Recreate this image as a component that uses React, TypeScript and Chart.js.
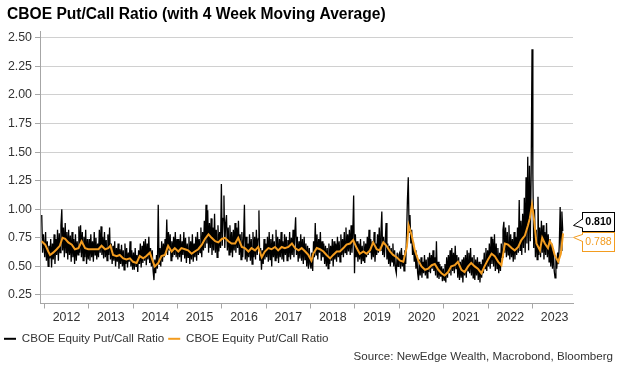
import React, { useEffect, useRef } from 'react';
import { Chart, registerables } from 'chart.js';

Chart.register(...registerables);

const FONT = '"Liberation Sans", Arial, Helvetica, sans-serif';
Chart.defaults.font.family = FONT;
Chart.defaults.color = '#333333';

const TITLE = 'CBOE Put/Call Ratio (with 4 Week Moving Average)';
const SOURCE = 'Source: NewEdge Wealth, Macrobond, Bloomberg';
const SERIES_DAILY = 'CBOE Equity Put/Call Ratio';
const SERIES_MA = 'CBOE Equity Put/Call Ratio';

const yTickValues = [0.25, 0.5, 0.75, 1.0, 1.25, 1.5, 1.75, 2.0, 2.25, 2.5];
const yearLabels = [2012, 2013, 2014, 2015, 2016, 2017, 2018, 2019, 2020, 2021, 2022, 2023];

const lastPcr = 0.81;
const lastMa = 0.788;

// weekly readings of the put/call ratio (black line)
const pcr2011 = [0.95, 0.62, 0.78];
const pcr2012 = [0.58,0.80,0.55,0.72,0.50,0.68,0.57,0.74,0.49,0.70,0.56,0.78,0.52,0.74,0.60,0.82,0.55,0.79,0.62,0.86,1.00,0.64,0.84,0.58,0.88,0.62,0.80,0.56,0.82,0.60,0.77,0.54,0.80,0.58,0.74,0.52,0.78,0.55,0.72,0.60,0.85,0.62,0.86,0.58,0.80,0.55,0.76,0.58,0.82,0.52,0.74,0.56];
const pcr2013 = [0.74,0.55,0.78,0.58,0.72,0.54,0.80,0.60,0.75,0.56,0.70,0.58,0.82,0.62,0.85,0.60,0.76,0.57,0.80,0.58,0.73,0.55,0.78,0.60,0.84,0.56,0.70,0.52,0.68,0.55,0.72,0.50,0.66,0.54,0.70,0.48,0.65,0.52,0.69,0.50,0.64,0.47,0.70,0.52,0.66,0.49,0.62,0.54,0.72,0.50,0.64,0.47];
const pcr2014 = [0.62,0.47,0.66,0.50,0.60,0.45,0.64,0.52,0.70,0.49,0.68,0.53,0.72,0.55,0.74,0.51,0.70,0.56,0.76,0.53,0.66,0.50,0.64,0.46,0.38,0.56,0.44,0.60,0.48,1.04,0.52,0.66,0.50,0.72,0.54,0.70,0.58,0.74,0.62,0.91,0.60,0.80,0.64,0.78,0.55,0.72,0.58,0.76,0.60,0.80,0.58,0.74];
const pcr2015 = [0.56,0.74,0.58,0.78,0.54,0.72,0.60,0.80,0.57,0.75,0.53,0.70,0.58,0.76,0.52,0.72,0.56,0.78,0.54,0.70,0.58,0.76,0.55,0.80,0.60,0.74,0.62,0.84,0.58,0.80,0.64,0.90,0.66,1.04,0.70,0.99,0.62,0.88,0.66,0.92,0.60,0.84,0.64,0.96,0.62,0.82,0.58,0.86,0.63,0.80,0.66,1.22];
const pcr2016 = [0.68,0.92,1.12,0.66,0.88,0.95,0.64,0.84,0.60,0.86,0.62,0.80,0.58,0.82,0.64,0.88,0.62,0.84,0.66,0.90,0.60,0.78,0.56,0.80,0.58,0.74,1.04,0.56,0.76,0.54,0.70,0.58,0.78,0.55,0.74,0.52,0.80,0.58,0.76,0.56,0.82,0.60,0.74,0.99,0.55,0.66,0.47,0.64,0.52,0.74,0.56,0.70];
const pcr2017 = [0.58,0.76,0.54,0.80,0.56,0.74,0.50,0.78,0.58,0.72,0.55,0.82,0.57,0.76,0.53,0.74,0.58,0.80,0.56,0.72,0.54,0.78,0.60,0.76,0.55,0.73,0.58,0.80,0.56,0.75,0.60,0.82,0.58,0.78,0.93,0.60,0.76,0.54,0.72,0.57,0.78,0.55,0.74,0.52,0.76,0.56,0.70,0.50,0.68,0.48,0.66,0.52];
const pcr2018 = [0.48,0.62,0.46,0.72,0.58,0.88,0.60,0.78,0.56,0.74,0.62,0.80,0.55,0.72,0.58,0.70,0.52,0.68,0.50,0.66,0.48,0.70,0.52,0.68,0.55,0.74,0.50,0.72,0.56,0.70,0.54,0.76,0.58,0.72,0.54,0.78,0.60,0.74,0.58,0.80,0.62,0.84,0.60,0.78,0.63,0.82,0.60,0.86,0.62,0.80,1.12,0.44];
const pcr2019 = [0.78,0.58,0.72,0.54,0.70,0.56,0.74,0.52,0.68,0.55,0.72,0.53,0.70,0.58,0.76,0.60,0.82,0.62,0.74,0.56,0.72,0.58,0.80,0.54,0.70,0.60,0.78,0.62,0.84,0.64,0.80,0.98,0.60,0.76,0.58,0.72,0.88,0.56,0.70,0.52,0.68,0.50,0.66,0.54,0.70,0.50,0.64,0.48,0.44,0.62,0.50,0.60];
const pcr2020 = [0.62,0.48,0.66,0.50,0.60,0.46,0.64,0.52,0.78,1.08,1.28,0.80,0.95,0.70,0.82,0.60,0.72,0.54,0.64,0.48,0.60,0.44,0.38,0.56,0.42,0.58,0.40,0.54,0.44,0.60,0.42,0.56,0.40,0.58,0.45,0.62,0.44,0.60,0.48,0.64,0.46,0.58,0.42,0.72,0.40,0.54,0.39,0.52,0.41,0.50,0.37,0.48];
const pcr2021 = [0.38,0.52,0.36,0.58,0.40,0.60,0.44,0.64,0.42,0.66,0.46,0.62,0.44,0.68,0.48,0.60,0.40,0.58,0.38,0.54,0.40,0.56,0.36,0.58,0.42,0.60,0.40,0.64,0.46,0.62,0.44,0.66,0.42,0.58,0.40,0.60,0.38,0.56,0.42,0.58,0.38,0.54,0.36,0.52,0.40,0.56,0.44,0.62,0.48,0.66,0.46,0.64];
const pcr2022 = [0.50,0.70,0.48,0.76,0.52,0.74,0.50,0.78,0.46,0.70,0.48,0.66,0.44,0.62,0.46,0.70,0.58,0.82,0.89,0.62,0.84,0.58,0.80,0.60,0.86,0.56,0.78,0.58,0.74,0.54,0.80,0.56,0.76,0.60,0.84,0.62,1.08,0.64,0.90,0.60,0.96,0.66,1.10,0.62,1.28,0.70,1.46,0.64,1.38,0.72,1.32,2.40];
const pcr2023 = [1.31,0.66,1.00,0.58,0.82,0.56,1.11,0.60,0.84,0.58,0.90,0.62,0.86,0.56,0.80,0.60,0.88,0.58,0.78,0.54,0.74,0.50,0.70,0.48,0.66,0.46,0.40,0.58,0.48,0.62,0.52,0.70,1.02,0.64,0.98,0.81];

// 4 week moving average (orange line): dates (decimal years) and values
const maDates = [
  2011.94,
  2012.02,2012.09,2012.13,2012.20,2012.28,2012.35,2012.41,2012.47,2012.54,2012.62,2012.69,2012.77,2012.84,2012.92,2012.99,
  2013.10,2013.22,2013.29,2013.37,2013.44,2013.49,2013.55,2013.63,2013.70,2013.78,2013.85,2013.93,
  2014.00,2014.08,2014.15,2014.23,2014.30,2014.38,2014.45,2014.49,2014.57,2014.64,2014.72,2014.79,2014.87,2014.94,
  2015.02,2015.09,2015.17,2015.24,2015.32,2015.39,2015.47,2015.55,2015.62,2015.70,2015.77,2015.85,2015.92,
  2016.00,2016.07,2016.15,2016.22,2016.30,2016.37,2016.45,2016.52,2016.60,2016.67,2016.75,2016.82,2016.90,2016.97,
  2017.05,2017.12,2017.20,2017.27,2017.35,2017.42,2017.50,2017.58,2017.65,2017.73,2017.80,2017.88,2017.95,
  2018.02,2018.06,2018.14,2018.21,2018.29,2018.36,2018.44,2018.51,2018.59,2018.66,2018.74,2018.81,2018.89,2018.96,
  2019.04,2019.11,2019.19,2019.26,2019.34,2019.41,2019.49,2019.56,2019.64,2019.71,2019.79,2019.86,2019.94,
  2020.02,2020.09,2020.17,2020.21,2020.28,2020.35,2020.43,2020.50,2020.58,2020.65,2020.73,2020.80,2020.88,2020.95,
  2021.02,2021.10,2021.17,2021.25,2021.32,2021.40,2021.47,2021.55,2021.62,2021.70,2021.77,2021.85,2021.92,
  2022.00,2022.08,2022.15,2022.23,2022.30,2022.38,2022.45,2022.53,2022.60,2022.68,2022.75,2022.83,2022.90,2022.94,2022.99,
  2023.04,2023.09,2023.17,2023.22,2023.28,2023.35,2023.39,2023.44,2023.50,2023.58,2023.64,2023.69,
];
const maValues = [
  0.72,
  0.69,0.63,0.60,0.62,0.65,0.68,0.75,0.74,0.71,0.69,0.65,0.66,0.72,0.66,0.65,
  0.65,0.65,0.68,0.65,0.66,0.68,0.60,0.59,0.60,0.57,0.56,0.57,
  0.54,0.53,0.59,0.57,0.59,0.62,0.54,0.50,0.53,0.59,0.60,0.68,0.63,0.66,
  0.63,0.66,0.65,0.64,0.61,0.63,0.65,0.69,0.74,0.78,0.75,0.72,0.71,
  0.74,0.75,0.72,0.70,0.70,0.75,0.67,0.66,0.63,0.66,0.64,0.67,0.58,0.63,
  0.66,0.65,0.67,0.64,0.67,0.66,0.67,0.70,0.66,0.64,0.66,0.63,0.60,
  0.55,0.61,0.66,0.65,0.63,0.60,0.57,0.60,0.63,0.63,0.66,0.69,0.70,0.73,
  0.66,0.61,0.63,0.61,0.64,0.71,0.65,0.64,0.71,0.68,0.63,0.60,0.58,
  0.55,0.54,0.67,0.86,0.77,0.64,0.55,0.50,0.47,0.48,0.51,0.52,0.47,0.44,
  0.42,0.45,0.50,0.51,0.54,0.47,0.45,0.50,0.53,0.50,0.48,0.44,0.50,
  0.56,0.61,0.59,0.54,0.51,0.70,0.69,0.66,0.64,0.67,0.73,0.77,0.86,0.92,1.04,
  0.90,0.70,0.64,0.75,0.70,0.66,0.72,0.69,0.60,0.54,0.61,0.788,
];

const BLACK = '#000000';
const ORANGE = '#f39c1f';

function weekly(year: number, values: number[], startWeek: number, perYear: number) {
  return values.map((v, i) => ({ x: year + (startWeek + i + 0.5) / perYear, y: v }));
}

function buildDaily() {
  return [
    ...weekly(2011, pcr2011, 48.5, 52),
    ...weekly(2012, pcr2012, 0, pcr2012.length),
    ...weekly(2013, pcr2013, 0, pcr2013.length),
    ...weekly(2014, pcr2014, 0, pcr2014.length),
    ...weekly(2015, pcr2015, 0, pcr2015.length),
    ...weekly(2016, pcr2016, 0, pcr2016.length),
    ...weekly(2017, pcr2017, 0, pcr2017.length),
    ...weekly(2018, pcr2018, 0, pcr2018.length),
    ...weekly(2019, pcr2019, 0, pcr2019.length),
    ...weekly(2020, pcr2020, 0, pcr2020.length),
    ...weekly(2021, pcr2021, 0, pcr2021.length),
    ...weekly(2022, pcr2022, 0, pcr2022.length),
    ...weekly(2023, pcr2023, 0, 52),
  ];
}

function drawTag(ctx: CanvasRenderingContext2D, boxTop: number, tipY: number, baseA: number, baseB: number, color: string, text: string, bold: boolean) {
  const x0 = 582;
  const w = 33;
  const h = 20;
  const tipX = 573.5;
  ctx.save();
  ctx.fillStyle = '#ffffff';
  ctx.fillRect(x0, boxTop, w, h);
  ctx.strokeStyle = color;
  ctx.lineWidth = 1;
  ctx.strokeRect(x0 + 0.5, boxTop + 0.5, w - 1, h - 1);
  ctx.beginPath();
  ctx.moveTo(x0 + 1.5, baseA);
  ctx.lineTo(tipX, tipY);
  ctx.lineTo(x0 + 1.5, baseB);
  ctx.closePath();
  ctx.fillStyle = '#ffffff';
  ctx.fill();
  ctx.beginPath();
  ctx.moveTo(x0 + 0.5, baseA);
  ctx.lineTo(tipX, tipY);
  ctx.lineTo(x0 + 0.5, baseB);
  ctx.stroke();
  ctx.fillStyle = color;
  ctx.font = (bold ? 'bold ' : '') + '10.5px ' + FONT;
  ctx.textAlign = 'center';
  ctx.textBaseline = 'middle';
  ctx.fillText(text, x0 + w / 2, boxTop + h / 2 + 0.5);
  ctx.restore();
}

const overlayPlugin = {
  id: 'overlay',
  afterDraw(chart: any) {
    const ctx: CanvasRenderingContext2D = chart.ctx;
    const ys = chart.scales.y;
    ctx.save();
    ctx.fillStyle = '#000000';
    ctx.font = 'bold 15.6px ' + FONT;
    ctx.textAlign = 'left';
    ctx.textBaseline = 'middle';
    ctx.fillText(TITLE, 7, 15);

    ctx.fillStyle = '#333333';
    ctx.font = '11.6px ' + FONT;
    ctx.textAlign = 'right';
    ctx.fillText(SOURCE, 613, 357);
    ctx.restore();

    const py = ys.getPixelForValue(lastPcr);
    const po = ys.getPixelForValue(lastMa);
    drawTag(ctx, Math.round(py - 19), py - 5.5, py - 12, py - 3, BLACK, lastPcr.toFixed(3), true);
    drawTag(ctx, Math.round(po - 1), po + 4, po + 1, po + 8, ORANGE, lastMa.toFixed(3), false);
  },
};

export default function App() {
  const ref = useRef<HTMLCanvasElement>(null);

  useEffect(() => {
    if (!ref.current) return;
    const daily = buildDaily();
    const ma = maDates.map((d, i) => ({ x: d, y: maValues[i] }));
    const isYear = (v: number) => Math.abs(v - Math.round(v)) < 1e-6;

    const chart = new Chart(ref.current, {
      type: 'line',
      data: {
        datasets: [
          {
            label: SERIES_DAILY,
            data: daily,
            borderColor: BLACK,
            backgroundColor: BLACK,
            borderWidth: 1.3,
            pointRadius: 0,
            tension: 0,
            order: 2,
          },
          {
            label: SERIES_MA,
            data: ma,
            borderColor: ORANGE,
            backgroundColor: ORANGE,
            borderWidth: 2,
            pointRadius: 0,
            tension: 0,
            order: 1,
          },
        ],
      },
      options: {
        animation: false,
        responsive: false,
        devicePixelRatio: 1,
        parsing: false,
        normalized: true,
        layout: { padding: { left: 0, right: 50, top: 31, bottom: 27 } },
        plugins: {
          title: { display: false },
          tooltip: { enabled: false },
          legend: {
            display: true,
            position: 'bottom',
            align: 'start',
            maxHeight: 20,
            labels: {
              boxWidth: 12,
              boxHeight: 2,
              padding: 4,
              color: '#333333',
              font: { size: 11.6, family: FONT },
              sort: (a: any, b: any) => a.datasetIndex - b.datasetIndex,
              generateLabels: (c: any) =>
                Chart.defaults.plugins.legend.labels
                  .generateLabels(c)
                  .map((l: any) => ({ ...l, lineWidth: 0, fillStyle: l.strokeStyle })),
            },
          },
        },
        scales: {
          x: {
            type: 'linear',
            min: 2011.903,
            max: 2023.914,
            afterBuildTicks: (s: any) => {
              const t: any[] = [];
              yearLabels.forEach((y) => {
                t.push({ value: y });
                t.push({ value: y + 0.5 });
              });
              s.ticks = t;
            },
            afterFit: (s: any) => {
              s.height = 25.5;
            },
            grid: {
              drawOnChartArea: false,
              drawTicks: true,
              tickLength: 5,
              tickColor: (c: any) => (c.tick && isYear(c.tick.value) ? '#a6a6a6' : 'rgba(0,0,0,0)'),
            },
            border: { display: true, color: '#a6a6a6' },
            ticks: {
              autoSkip: false,
              maxRotation: 0,
              minRotation: 0,
              padding: 2,
              color: '#333333',
              font: { size: 12.4, family: FONT },
              callback: (v: any) => (isYear(Number(v)) ? '' : String(Math.floor(Number(v)))),
            },
          },
          y: {
            type: 'linear',
            min: 0.175,
            max: 2.56,
            afterBuildTicks: (s: any) => {
              s.ticks = yTickValues.map((v) => ({ value: v }));
            },
            afterFit: (s: any) => {
              s.width = 40;
            },
            grid: {
              color: '#d0d0d0',
              lineWidth: 1,
              drawTicks: true,
              tickLength: 5,
              tickColor: '#a6a6a6',
            },
            border: { display: true, color: '#a6a6a6' },
            ticks: {
              padding: 3,
              color: '#333333',
              font: { size: 12.4, family: FONT },
              callback: (v: any) => Number(v).toFixed(2),
            },
          },
        },
      },
      plugins: [overlayPlugin],
    } as any);

    return () => chart.destroy();
  }, []);

  return (
    <div style={{ position: 'fixed', left: 0, top: 0, width: 623, height: 376, background: '#ffffff' }}>
      <canvas ref={ref} width={623} height={376} style={{ display: 'block', width: 623, height: 376 }} />
    </div>
  );
}
